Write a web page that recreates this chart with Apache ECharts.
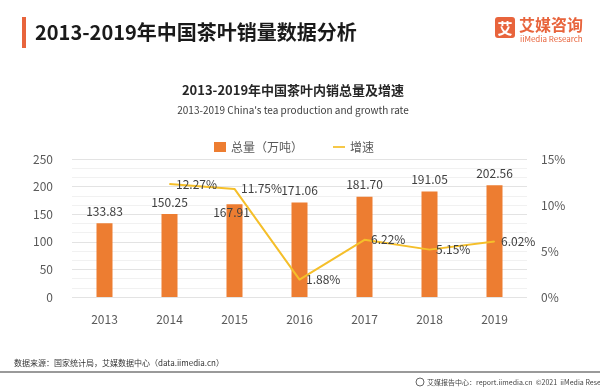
<!DOCTYPE html>
<html><head><meta charset="utf-8">
<script src="https://cdn.jsdelivr.net/npm/echarts@6/dist/echarts.min.js"></script>
<style>html,body{margin:0;padding:0;background:#fff}#c{width:600px;height:390px}</style>
</head><body><div id="c"></div>
<script>
var years = ['2013','2014','2015','2016','2017','2018','2019'];
var totals = [133.83, 150.25, 167.91, 171.06, 181.70, 191.05, 202.56];
var growth = [null, 12.27, 11.75, 1.88, 6.22, 5.15, 6.02];
var leftTicks = [0, 50, 100, 150, 200, 250];
var rightTicks = [0, 5, 10, 15];

var FONT = '"Noto Sans CJK SC", "Noto Sans", sans-serif';
var chart = echarts.init(document.getElementById('c'), null, {renderer: 'canvas'});

var barData = totals.map(function (v, i) {
  if (i === 2) return {value: v, label: {offset: [-3, 20]}};
  return v;
});

chart.setOption({
  animation: false,
  textStyle: {fontFamily: FONT},
  grid: {left: 72, right: 73, top: 159, bottom: 93},
  legend: {
    left: 209, top: 136, itemGap: 30, itemWidth: 12, itemHeight: 10,
    textStyle: {fontSize: 12, color: '#595959', fontFamily: FONT},
    data: [
      {name: '总量（万吨）', icon: 'rect'},
      {name: '增速', icon: 'path://M0,4 L14,4 L14,6 L0,6 Z', itemStyle: {color: '#F5BF2A'}}
    ]
  },
  xAxis: {
    type: 'category', data: years,
    axisLine: {show: false}, axisTick: {show: false},
    axisLabel: {fontSize: 12, color: '#595959', margin: 16}
  },
  yAxis: [{
    type: 'value', min: leftTicks[0], max: leftTicks[leftTicks.length - 1], interval: 50,
    axisLabel: {fontSize: 12, color: '#595959', margin: 19},
    axisLine: {show: false}, axisTick: {show: false},
    splitLine: {lineStyle: {color: '#e3e3e3'}},
    minorTick: {show: false, splitNumber: 3},
    minorSplitLine: {show: true, lineStyle: {color: '#f1f1f1'}}
  }, {
    type: 'value', min: rightTicks[0], max: rightTicks[rightTicks.length - 1], interval: 5,
    axisLabel: {fontSize: 12, color: '#595959', margin: 14, formatter: '{value}%'},
    axisLine: {show: false}, axisTick: {show: false},
    splitLine: {show: false}
  }],
  series: [{
    name: '总量（万吨）', type: 'bar', data: barData, barWidth: 16,
    itemStyle: {color: '#ED7D31'},
    label: {show: true, position: 'top', distance: 6, fontSize: 12, color: '#404040',
      formatter: function (p) { return p.value.toFixed(2); }}
  }, {
    name: '增速', type: 'line', yAxisIndex: 1, data: growth,
    symbol: 'circle', symbolSize: 1, connectNulls: false,
    lineStyle: {color: '#F5BF2A', width: 2},
    itemStyle: {color: '#F5BF2A'},
    label: {show: true, position: 'right', distance: 6, fontSize: 12, color: '#404040',
      formatter: function (p) { return p.value.toFixed(2) + '%'; }}
  }],
  graphic: [
    {type: 'rect', shape: {x: 22, y: 17, width: 4, height: 31}, style: {fill: '#E8643C'}},
    {type: 'text', x: 35, y: 32, style: {text: '2013-2019年中国茶叶销量数据分析', font: 'bold 20px ' + FONT, fill: '#1a1a1a', textVerticalAlign: 'middle'}},
    {type: 'rect', shape: {x: 495, y: 17, width: 20, height: 21, r: 3}, style: {fill: '#E8643C'}},
    {type: 'text', x: 505, y: 28, style: {text: '艾', font: 'bold 15px ' + FONT, fill: '#fff', textAlign: 'center', textVerticalAlign: 'middle'}},
    {type: 'text', x: 519, y: 25, style: {text: '艾媒咨询', font: 'bold 16px ' + FONT, fill: '#E8643C', textVerticalAlign: 'middle'}},
    {type: 'text', x: 520, y: 39, style: {text: 'iiMedia Research', font: '8px ' + FONT, fill: '#E8643C', textVerticalAlign: 'middle'}},
    {type: 'text', x: 293, y: 90, style: {text: '2013-2019年中国茶叶内销总量及增速', font: 'bold 13px ' + FONT, fill: '#262626', textAlign: 'center', textVerticalAlign: 'middle'}},
    {type: 'text', x: 293, y: 110, style: {text: '2013-2019 China\'s tea production and growth rate', font: '10px ' + FONT, fill: '#404040', textAlign: 'center', textVerticalAlign: 'middle'}},
    {type: 'text', x: 14, y: 363, style: {text: '数据来源：国家统计局，艾媒数据中心（data.iimedia.cn）', font: '8px ' + FONT, fill: '#333', textVerticalAlign: 'middle'}},
    {type: 'rect', shape: {x: 0, y: 371, width: 600, height: 2}, style: {fill: '#9a9a9a'}},
    {type: 'circle', shape: {cx: 420, cy: 382, r: 4}, style: {fill: 'none', stroke: '#666', lineWidth: 1}},
    {type: 'text', x: 427, y: 382, style: {text: '艾媒报告中心：report.iimedia.cn  ©2021  iiMedia Research  Inc', font: '7px ' + FONT, fill: '#444', textVerticalAlign: 'middle'}}
  ]
});
</script></body></html>
